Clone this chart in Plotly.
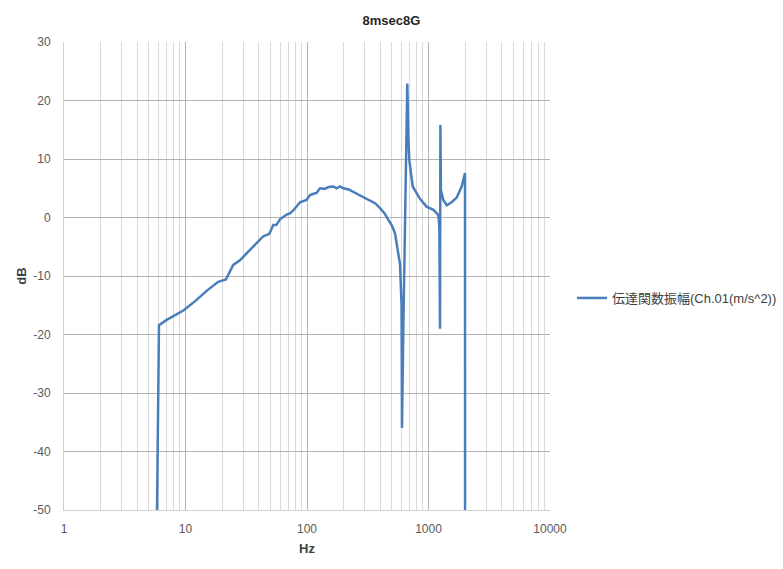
import plotly.graph_objects as go

# Transfer function amplitude, Ch.01 (m/s^2)
freq_hz = [5.83, 6.05, 7.0, 8.0, 9.6, 12.0, 15.0, 18.6, 21.5, 24.7, 28.1, 33.0,
           39.7, 43.7, 49.0, 52.8, 55.9, 59.9, 68.0, 72.4, 77.1, 87.6, 99.0,
           106.0, 115.0, 120.0, 124.0, 128.0, 140.0, 150.0, 165.0, 175.0, 187.0,
           199.0, 220.0, 256.0, 290.0, 330.0, 365.0, 399.0, 435.0, 467.0, 500.0,
           530.0, 561.0, 583.0, 600.0, 605.0, 621.0, 641.0, 653.0, 669.0, 682.0,
           695.0, 741.0, 800.0, 851.0, 966.0, 1097.0, 1205.0, 1228.0, 1244.0,
           1253.0, 1265.0, 1324.0, 1413.0, 1550.0, 1707.0, 1876.0, 1997.0, 2000.0]
amp_db = [-50.0, -18.4, -17.5, -16.8, -15.9, -14.3, -12.5, -11.0, -10.6, -8.1,
          -7.3, -5.8, -4.1, -3.2, -2.8, -1.3, -1.3, -0.3, 0.5, 0.7, 1.2, 2.6,
          3.0, 3.85, 4.1, 4.2, 4.6, 5.0, 4.9, 5.2, 5.3, 5.0, 5.3, 5.0, 4.8, 4.1,
          3.6, 3.0, 2.4, 1.6, 0.7, -0.4, -1.4, -2.7, -5.5, -8.0, -15.0, -36.0,
          -18.7, -1.6, 9.8, 22.9, 14.0, 9.8, 5.3, 4.0, 3.2, 1.85, 1.3, 0.4, -1.6,
          -19.0, 15.8, 4.7, 3.0, 2.1, 2.6, 3.4, 5.3, 7.6, -50.0]

x_ticks = [1, 10, 100, 1000, 10000]
y_ticks = [30, 20, 10, 0, -10, -20, -30, -40, -50]

LINE = "#4a7ebb"
MAJOR = "#b3b3b3"
MINOR = "#d9d9d9"
AXIS = "#d0d0d0"
FONT = "Liberation Sans, Noto Sans CJK JP, sans-serif"

fig = go.Figure()
fig.add_trace(go.Scatter(
    x=freq_hz, y=amp_db, mode="lines",
    name="伝達関数振幅(Ch.01(m/s^2))",
    line=dict(color=LINE, width=2.5),
))

fig.update_layout(
    width=783, height=569,
    margin=dict(l=64, r=233, t=42, b=59, autoexpand=False),
    paper_bgcolor="white", plot_bgcolor="white",
    font=dict(family=FONT, size=12, color="#595959"),
    title=dict(text="<b>8msec8G</b>", x=0.5, xref="container", xanchor="center",
               y=1 - 20 / 569, yref="container", yanchor="middle",
               font=dict(size=13, color="#262626")),
    showlegend=True,
    legend=dict(x=572 / 783, xref="container", xanchor="left",
                y=1 - 298 / 569, yref="container", yanchor="middle",
                itemwidth=30,
                font=dict(size=13, color="#404040"), bgcolor="rgba(0,0,0,0)"),
)

fig.update_xaxes(
    type="log", range=[0, 4],
    tickvals=x_ticks, ticktext=[str(v) for v in x_ticks],
    showgrid=True, gridcolor=MAJOR, gridwidth=1,
    minor=dict(dtick="D1", showgrid=True, gridcolor=MINOR, gridwidth=1, ticks=""),
    showline=True, linecolor=AXIS, linewidth=1, mirror=False,
    ticks="", ticklabelstandoff=8,
    title=dict(text="<b>Hz</b>", font=dict(size=13, color="#404040"), standoff=8),
    zeroline=False, automargin=False,
)
fig.update_yaxes(
    range=[-50, 30], tickvals=y_ticks, ticktext=[str(v) for v in y_ticks],
    showgrid=True, gridcolor=MAJOR, gridwidth=1,
    showline=True, linecolor=AXIS, linewidth=1,
    ticks="", ticklabelstandoff=10,
    title=dict(text="<b>dB</b>", font=dict(size=13, color="#404040"), standoff=3),
    zeroline=False, automargin=False,
)

fig.write_html("out.html")
